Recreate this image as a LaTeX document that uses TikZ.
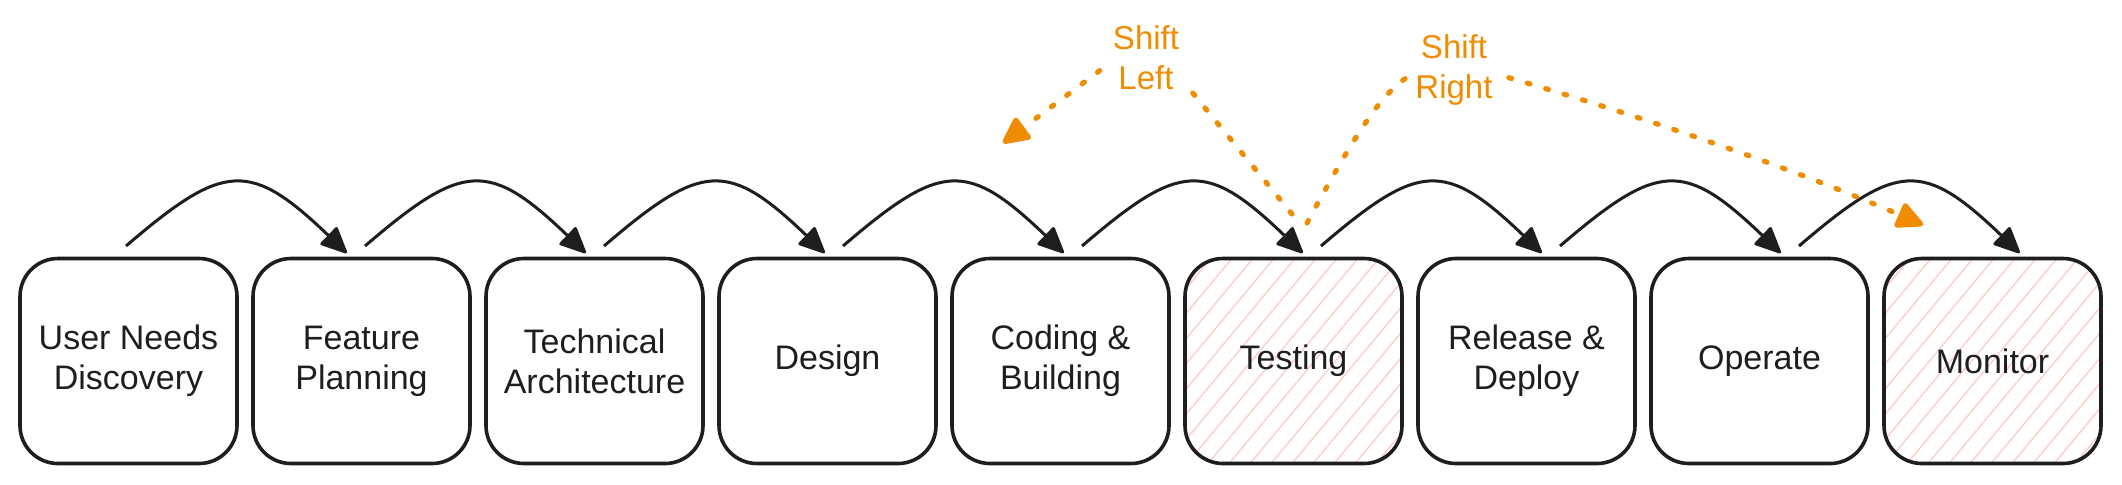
\documentclass[tikz,border=0pt]{standalone}
\usepackage{fontspec}
\setmainfont{Liberation Sans}
\usetikzlibrary{arrows.meta,calc}
\definecolor{ink}{HTML}{1E1E1E}
\definecolor{orng}{HTML}{F08C00}
\definecolor{hatchc}{HTML}{FFC9C9}
\begin{document}
\begin{tikzpicture}[x=0.5pt,y=-0.5pt,
  stage/.style={draw=ink, line width=1.8pt, rounded corners=19pt,
    minimum width=108.5pt, minimum height=102.5pt, inner sep=0pt,
    align=center, text=ink, font=\fontsize{17}{20}\selectfont},
  hatched/.style={path picture={
    \foreach \i in {-11,...,11}
      \draw[hatchc, line width=0.65pt]
        ($(path picture bounding box.center)+(\i*21-100,120)$) -- ++(200,-240);
  }},
  flow/.style={draw=ink, line width=1.5pt, -{Triangle[length=14pt,width=12.5pt,round]}},
  shiftarrow/.style={draw=orng, line width=2.6pt, line cap=round,
    dash pattern=on 1.4pt off 8.2pt, -{Triangle[length=15pt,width=14pt,round]}},
  shiftlabel/.style={fill=white, text=orng, align=center, inner sep=3pt,
    font=\fontsize{16.5}{20}\selectfont}
]
\useasboundingbox (0,0) rectangle (2122,484);
\fill[white] (0,0) rectangle (2122,484);

% stages
\node[stage] (b1) at (128.5,361) {User Needs\\Discovery};
\node[stage] (b2) at (361.5,361) {Feature\\Planning};
\node[stage] (b3) at (594.5,361) {Technical\\Architecture};
\node[stage] (b4) at (827.5,361) {Design};
\node[stage] (b5) at (1060.5,361) {Coding \&\\Building};
\node[stage,hatched] (b6) at (1293.5,361) {Testing};
\node[stage] (b7) at (1526.5,361) {Release \&\\Deploy};
\node[stage] (b8) at (1759.5,361) {Operate};
\node[stage,hatched] (b9) at (1992.5,361) {Monitor};

% flow arrows
\foreach \k in {1,...,8} {
  \coordinate (s\k) at ({126+239*(\k-1)},246);
  \coordinate (e\k) at ({346.7+239*(\k-1)},253);
}
\foreach \k in {1,...,8}
  \draw[flow] (s\k) .. controls ($(s\k)+(98,-84)$) and ($(e\k)+(-97,-93)$) .. (e\k);

% shift left
\coordinate (slS) at (1292,214);
\coordinate (slM) at (1146,36);
\coordinate (slE) at (1003,143);
\draw[shiftarrow] (slS) -- (slM) -- (slE);
\node[shiftlabel] (shl) at (1146,58) {Shift\\Left};

% shift right
\coordinate (srS) at (1307,223);
\coordinate (srM) at (1439,58);
\coordinate (srE) at (1923,225);
\draw[shiftarrow] (srS) .. controls (1392,65) and (1399,86) .. (srM)
                        .. controls (1594,100) and (1776,161) .. (srE);
\node[shiftlabel] (shr) at (1454,70) {Shift\\Right};
\end{tikzpicture}
\end{document}
